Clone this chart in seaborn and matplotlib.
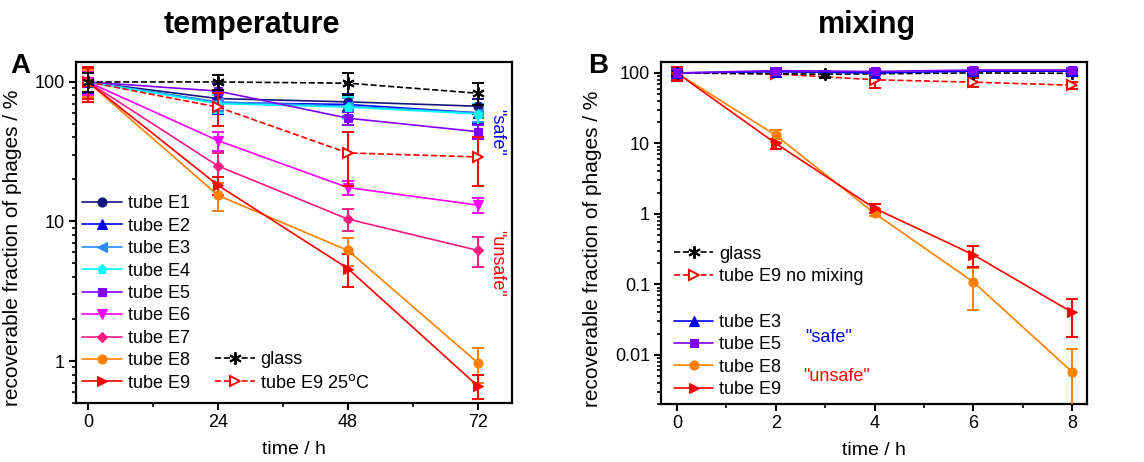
import numpy as np
import matplotlib
matplotlib.use("Agg")
import matplotlib.pyplot as plt
import seaborn as sns
from matplotlib.lines import Line2D
from matplotlib.ticker import FixedLocator, FuncFormatter, LogLocator, NullFormatter

# --- data panel A (temperature) ---
t_A = [0, 24, 48, 72]
E1_A = [100, 76, 72, 67]
E2_A = [100, 71, 69, 60]
E3_A = [100, 72, 67, 60]
E4_A = [100, 70, 66, 59]
E5_A = [100, 86, 55, 44]
E6_A = [100, 38, 17.5, 13.1]
E7_A = [100, 25, 10.4, 6.2]
E8_A = [100, 15.4, 6.2, 0.97]
E9_A = [100, 18.2, 4.6, 0.66]
glass_A = [100, 100, 98, 83]
E9_25C_A = [100, 66, 31, 29]

E1_A_err = [20, 10, 10, 8]
E2_A_err = [18, 12, 12, 10]
E3_A_err = [15, 10, 10, 8]
E4_A_err = [15, 10, 12, 10]
E5_A_err = [15, 10, 6, 5]
E6_A_err = [20, 6, 2, 1.6]
E7_A_err = [22, 6, 1.8, 1.5]
E8_A_err = [22, 3.6, 1.4, 0.27]
E9_A_err = [28, 2.7, 1.2, 0.13]
glass_A_err = [15, 12, 17, 15]
E9_25C_A_err = [25, 18, 13, 11]

# --- data panel B (mixing) ---
t_B = [0, 2, 4, 6, 8]
t_glass_B = [0, 3, 6, 8]
E3_B = [100, 104, 100, 106, 106]
E5_B = [100, 108, 105, 110, 110]
E8_B = [100, 13.1, 1.02, 0.108, 0.0057]
E9_B = [100, 10, 1.2, 0.263, 0.040]
glass_B = [100, 96, 100, 99]
E9_nomix_B = [100, 97, 80, 74, 67]

E3_B_err = [15, 8, 8, 8, 8]
E5_B_err = [15, 8, 8, 8, 8]
E8_B_err = [20, 2.6, 0.1, 0.065, 0.0065]
E9_B_err = [22, 1.7, 0.17, 0.085, 0.022]
glass_B_err = [10, 10, 8, 8]
E9_nomix_B_err = [20, 8, 18, 10, 8]

colors = {
    "E1": "#14147f", "E2": "#0000ff", "E3": "#2a8cff", "E4": "#00ffff",
    "E5": "#8000ff", "E6": "#ff00ff", "E7": "#ff1a80", "E8": "#ff8000",
    "E9": "#ff0000", "glass": "#000000",
}

sns.set_theme(style="ticks", rc={"text.color": "black", "axes.labelcolor": "black",
                                 "xtick.color": "black", "ytick.color": "black",
                                 "axes.edgecolor": "black"})
plt.rcParams["font.family"] = ["Liberation Sans", "DejaVu Sans"]

fig = plt.figure(figsize=(11.44, 4.62), dpi=100)
axA = fig.add_axes([0.0664, 0.1277, 0.3812, 0.7381])
axB = fig.add_axes([0.5778, 0.1255, 0.3724, 0.7403])


def serie(ax, x, y, err, color, marker, ls="-", ms=6.5, open_=False, z=3):
    y = np.array(y, dtype=float)
    err = np.array(err, dtype=float)
    lower = np.minimum(err, y * 0.95)
    ax.errorbar(x, y, yerr=[lower, err], fmt="none", ecolor=color,
                elinewidth=1.4, capsize=4, capthick=1.4, zorder=z)
    sns.lineplot(x=x, y=y, ax=ax, color=color, marker=marker, linestyle=ls,
                 linewidth=1.2, markersize=ms, markeredgecolor=color,
                 markeredgewidth=1.4 if open_ else 0.8,
                 markerfacecolor="white" if open_ else color,
                 zorder=z + 0.5, legend=False)


def handle(color, marker, ls="-", ms=6.5, open_=False):
    return Line2D([], [], color=color, marker=marker, linestyle=ls, linewidth=1.2,
                  markersize=ms, markeredgecolor=color,
                  markeredgewidth=1.4 if open_ else 0.8,
                  markerfacecolor="white" if open_ else color)


star = (6, 2, 0)

# panel A
serie(axA, t_A, E1_A, E1_A_err, colors["E1"], "o")
serie(axA, t_A, E2_A, E2_A_err, colors["E2"], "^")
serie(axA, t_A, E3_A, E3_A_err, colors["E3"], "<")
serie(axA, t_A, E4_A, E4_A_err, colors["E4"], "p")
serie(axA, t_A, E5_A, E5_A_err, colors["E5"], "s", ms=5.5)
serie(axA, t_A, E6_A, E6_A_err, colors["E6"], "v")
serie(axA, t_A, E7_A, E7_A_err, colors["E7"], "D", ms=5.5)
serie(axA, t_A, E8_A, E8_A_err, colors["E8"], "o")
serie(axA, t_A, E9_A, E9_A_err, colors["E9"], ">")
serie(axA, t_A, E9_25C_A, E9_25C_A_err, colors["E9"], ">", ls="--", open_=True, z=4)
serie(axA, t_A, glass_A, glass_A_err, colors["glass"], star, ls="--", ms=9, open_=True, z=5)

# panel B
serie(axB, t_B, E8_B, E8_B_err, colors["E8"], "o")
serie(axB, t_B, E9_B, E9_B_err, colors["E9"], ">")
serie(axB, t_B, E9_nomix_B, E9_nomix_B_err, colors["E9"], ">", ls="--", open_=True, z=4)
serie(axB, t_glass_B, glass_B, glass_B_err, colors["glass"], star, ls="--", ms=9, open_=True, z=5)
serie(axB, t_B, E3_B, E3_B_err, colors["E2"], "^", z=6)
serie(axB, t_B, E5_B, E5_B_err, colors["E5"], "s", ms=5.5, z=6)

fmt = FuncFormatter(lambda v, p: "%g" % v)
for ax in (axA, axB):
    ax.set_yscale("log")
    ax.yaxis.set_major_formatter(fmt)
    ax.yaxis.set_minor_locator(LogLocator(base=10, subs=np.arange(2, 10)))
    ax.yaxis.set_minor_formatter(NullFormatter())
    for s in ax.spines.values():
        s.set_visible(True)
        s.set_linewidth(1.6)
        s.set_color("black")
    ax.tick_params(which="major", direction="out", length=5, width=1.5,
                   labelsize=13, colors="black", pad=3)
    ax.tick_params(which="minor", direction="out", length=3, width=1.2)
    ax.set_xlabel("time / h", fontsize=14, labelpad=7)
    ax.set_ylabel("recoverable fraction of phages / %", fontsize=15)
    ax.set_facecolor("white")
    ax.grid(False)

axA.yaxis.set_label_coords(-0.124, 0.455)
axB.yaxis.set_label_coords(-0.138, 0.455)

axA.set_xlim(-2.2, 78.3)
axA.set_ylim(0.5, 139)
axA.xaxis.set_major_locator(FixedLocator([0, 24, 48, 72]))
axA.xaxis.set_minor_locator(FixedLocator([12, 36, 60]))
axA.yaxis.set_major_locator(FixedLocator([1, 10, 100]))

axB.set_xlim(-0.32, 8.3)
axB.set_ylim(0.002, 143)
axB.xaxis.set_major_locator(FixedLocator([0, 2, 4, 6, 8]))
axB.xaxis.set_minor_locator(FixedLocator([1, 3, 5, 7]))
axB.yaxis.set_major_locator(FixedLocator([0.01, 0.1, 1, 10, 100]))

leg_kw = dict(frameon=False, fontsize=13, handlelength=2.2, handletextpad=0.3,
              labelspacing=0.3, borderaxespad=0.3)

# legends A
legA1 = axA.legend(
    [handle(colors[k], m, ms=(5.5 if m in "sD" else 6.5)) for k, m in
     [("E1", "o"), ("E2", "^"), ("E3", "<"), ("E4", "p"), ("E5", "s"),
      ("E6", "v"), ("E7", "D"), ("E8", "o"), ("E9", ">")]],
    ["tube E%d" % i for i in range(1, 10)],
    loc="lower left", bbox_to_anchor=(-0.014, -0.004), **leg_kw)
axA.add_artist(legA1)
axA.legend([handle("black", star, "--", ms=9, open_=True),
            handle(colors["E9"], ">", "--", open_=True)],
           ["glass", "tube E9 25$^{\\mathrm{o}}$C"],
           loc="lower left", bbox_to_anchor=(0.29, -0.004), **leg_kw)

# legends B
legB1 = axB.legend([handle("black", star, "--", ms=9, open_=True),
                    handle(colors["E9"], ">", "--", open_=True)],
                   ["glass", "tube E9 no mixing"],
                   loc="upper left", bbox_to_anchor=(0.0, 0.50), **leg_kw)
axB.add_artist(legB1)
axB.legend([handle(colors["E2"], "^"), handle(colors["E5"], "s", ms=5.5),
            handle(colors["E8"], "o"), handle(colors["E9"], ">")],
           ["tube E3", "tube E5", "tube E8", "tube E9"],
           loc="lower left", bbox_to_anchor=(0.0, -0.02), **leg_kw)

# annotations
axA.text(0.965, 0.795, '"safe"', transform=axA.transAxes, rotation=270,
         color="#0000ff", fontsize=13, ha="center", va="center")
axA.text(0.965, 0.41, '"unsafe"', transform=axA.transAxes, rotation=270,
         color="#ff0000", fontsize=13, ha="center", va="center")
axB.text(3.06, 0.0174, '"safe"', color="#0000ff", fontsize=13, ha="center", va="center")
axB.text(3.24, 0.0049, '"unsafe"', color="#ff0000", fontsize=13, ha="center", va="center")

fig.text(252 / 1144, 1 - 25 / 462, "temperature", fontsize=22, fontweight="bold",
         ha="center", va="center", color="black")
fig.text(867 / 1144, 1 - 25 / 462, "mixing", fontsize=22, fontweight="bold",
         ha="center", va="center", color="black")
fig.text(20 / 1144, 1 - 66 / 462, "A", fontsize=20, fontweight="bold",
         ha="center", va="center", color="black")
fig.text(598 / 1144, 1 - 66 / 462, "B", fontsize=20, fontweight="bold",
         ha="center", va="center", color="black")

fig.savefig("out.png", dpi=100, facecolor="white")
